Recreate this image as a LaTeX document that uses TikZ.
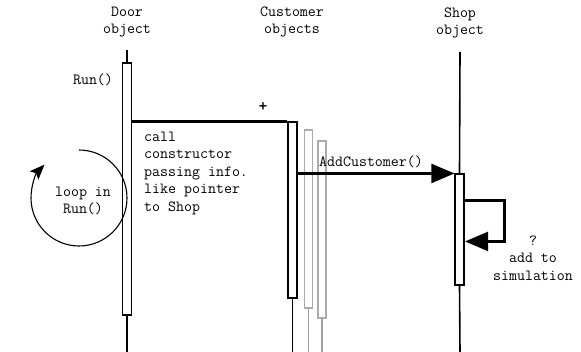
\documentclass[tikz,border=0pt]{standalone}
\usetikzlibrary{arrows.meta}

\begin{document}
\begin{tikzpicture}[
  x=1pt, y=-1pt,
  lifeline/.style={line width=1.6pt},
  ghostline/.style={line width=1.5pt, draw=gray!75},
  activation/.style={draw, line width=1.1pt, fill=white, inner sep=0pt, minimum width=9pt},
  ghost/.style={activation, draw=gray!65},
  msg/.style={line width=2.2pt},
  bighead/.style={-{Triangle[length=23pt, width=19pt]}},
  txt/.style={font=\ttfamily\fontsize{15.5}{17.5}\selectfont, inner sep=0pt, align=center},
]
  \useasboundingbox (0,0) rectangle (581,352);

  % Object headings
  \node[txt] (door) at (127, 22) {Door\\object};
  \node[txt] (cust) at (292, 22) {Customer\\objects};
  \node[txt] (shop) at (460, 23) {Shop\\object};

  % Activation boxes
  \node[activation, minimum height=252pt] (doorrun) at (127, 189) {};
  \node[ghost, minimum height=178pt, minimum width=8pt] (custrunb) at (308.5, 219) {};
  \node[ghost, minimum height=177pt, minimum width=8pt] (custrunc) at (322, 229.5) {};
  \node[activation, minimum height=176pt] (custrun) at (292.5, 210) {};
  \node[activation, minimum height=111pt] (shoprun) at (459.5, 229.5) {};

  % Lifelines
  \draw[lifeline] (127, 50) -- (doorrun.north);
  \draw[lifeline] (doorrun.south) -- (127, 352);
  \draw[lifeline] (custrun.south) -- (292.5, 352);
  \draw[ghostline] (custrunb.south) -- (308.5, 352);
  \draw[ghostline] (custrunc.south) -- (322, 352);
  \draw[lifeline] (460, 52) -- (shoprun.north);
  \draw[lifeline] (shoprun.south) -- (460, 352);

  % Constructor call
  \draw[msg] (doorrun.east |- custrun.north west) -- (custrun.north west);
  \node[txt, font=\ttfamily\bfseries\fontsize{17}{17}\selectfont] (plus) at (263, 107) {+};
  \node[txt, anchor=west, align=left] (calltxt) at (144, 173)
    {call\\constructor\\passing info.\\like pointer\\to Shop};

  % AddCustomer message
  \draw[msg, bighead] (custrun.east |- shoprun.north) -- (shoprun.north west);
  \node[txt] (addtxt) at (371, 162) {AddCustomer()};

  % Self call on the shop
  \draw[msg, bighead] ([yshift=-27pt]shoprun.north east) -| ++(40, 41) -- ++(-39.5, 0);
  \node[txt] (simtxt) at (533, 258) {?\\add to\\simulation};

  % Run loop
  \coordinate (loopc) at (79, 198);
  \draw[line width=1.1pt, -{Stealth[length=15pt, width=12pt, inset=3pt]}]
    (loopc) ++(-90:48) arc[start angle=-90, end angle=224, radius=48];
  \node[txt] (looptxt) at (83, 201) {loop in\\Run()};
  \node[txt] (runtxt) at (93, 80) {Run()};

\end{tikzpicture}
\end{document}
